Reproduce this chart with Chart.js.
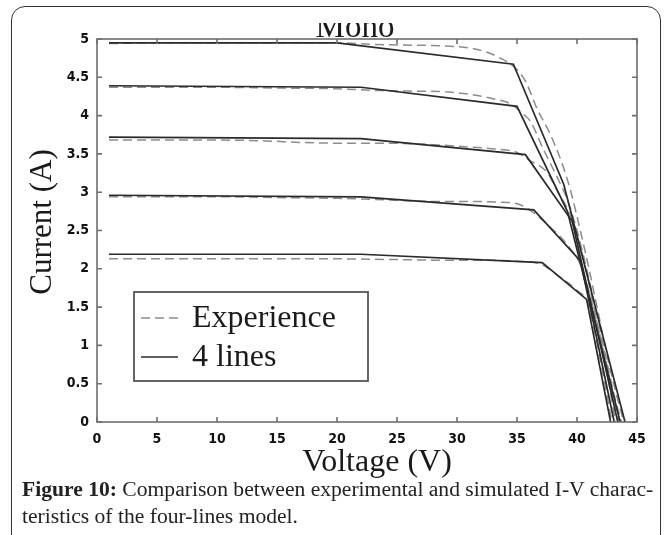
<!DOCTYPE html>
<html>
<head>
<meta charset="utf-8">
<title>I-V characteristics</title>
<script src="https://cdn.jsdelivr.net/npm/chart.js@4.4.1/dist/chart.umd.min.js"></script>
<style>
    html, body { margin: 0; padding: 0; background: #fff; width: 669px; height: 535px; overflow: hidden; }
    .frame {
        position: absolute; left: 11px; top: 6px; width: 648px; height: 620px;
        border: 1.5px solid #333; border-radius: 14px;
    }
    .plot { position: absolute; left: 0; top: 23px; width: 669px; height: 459px; overflow: hidden; }
    .plot canvas { position: absolute; left: 0; top: -23px; }
    .caption {
        position: absolute; left: 22px; top: 476px; width: 640px;
        font-family: "Liberation Serif", "DejaVu Serif", serif; font-size: 21.6px; line-height: 27px; color: #222;
        white-space: nowrap;
    }
    .caption b { font-weight: bold; }
</style>
</head>
<body>
<div class="frame"></div>
<div class="plot"><canvas id="ivChart" width="669" height="482"></canvas></div>
<div class="caption"><b>Figure 10:</b> Comparison between experimental and simulated I-V charac-<br>teristics of the four-lines model.</div>

<script>
// Axis ticks
const voltageTicks = [0, 5, 10, 15, 20, 25, 30, 35, 40, 45];
const currentTicks = [0, 0.5, 1, 1.5, 2, 2.5, 3, 3.5, 4, 4.5, 5];

// Measured curves (Experience), [voltage, current]
const experience1 = [[1, 4.94], [5, 4.95], [10, 4.95], [15, 4.95], [20, 4.95], [23, 4.93], [26, 4.92], [29, 4.91], [31.5, 4.87], [33.5, 4.76], [35, 4.6], [35.7, 4.45], [36.7, 4.08], [37.7, 3.78], [38.7, 3.4], [39.5, 3.0], [40.2, 2.55], [41, 2.0], [41.8, 1.4], [42.6, 0.8], [43.3, 0.35], [43.9, 0]];
const experience2 = [[1, 4.37], [5, 4.37], [10, 4.37], [15, 4.36], [20, 4.35], [23, 4.33], [26, 4.32], [29, 4.31], [31, 4.28], [33, 4.22], [34.5, 4.15], [35.5, 4.02], [36.1, 3.93], [37.2, 3.56], [38.3, 3.21], [39.2, 2.9], [40, 2.5], [40.8, 2.0], [41.6, 1.45], [42.4, 0.85], [43.1, 0.35], [43.7, 0]];
const experience3 = [[1, 3.68], [5, 3.68], [10, 3.68], [14, 3.67], [17, 3.65], [20, 3.64], [24, 3.64], [28, 3.62], [31, 3.59], [33.5, 3.56], [35, 3.52], [36, 3.42], [37.5, 3.26], [38.4, 3.0], [39.25, 2.77], [40, 2.45], [40.8, 1.95], [41.6, 1.35], [42.4, 0.8], [43, 0.35], [43.5, 0]];
const experience4 = [[1, 2.94], [5, 2.94], [10, 2.94], [15, 2.93], [20, 2.92], [24, 2.9], [28, 2.88], [31, 2.88], [33.5, 2.87], [35, 2.85], [36.5, 2.72], [37.5, 2.58], [38.6, 2.42], [39.5, 2.25], [40.3, 2.05], [41, 1.7], [41.8, 1.2], [42.5, 0.65], [43.2, 0]];
const experience5 = [[1, 2.13], [5, 2.13], [10, 2.13], [15, 2.13], [20, 2.13], [25, 2.12], [30, 2.11], [33, 2.11], [35, 2.1], [37, 2.06], [38.5, 1.9], [40, 1.72], [40.9, 1.55], [41.5, 1.15], [42.2, 0.6], [42.9, 0]];

// Four-lines model, break points [voltage, current]
const model1 = [[1, 4.95], [20, 4.95], [34.7, 4.67], [38.9, 3.1], [44.0, 0]];
const model2 = [[1, 4.39], [22, 4.37], [35.0, 4.12], [39.2, 2.75], [43.6, 0]];
const model3 = [[1, 3.72], [22, 3.70], [35.7, 3.49], [39.6, 2.62], [43.4, 0]];
const model4 = [[1, 2.96], [22, 2.94], [36.4, 2.77], [40.3, 2.1], [43.1, 0]];
const model5 = [[1, 2.19], [22, 2.19], [37.1, 2.08], [40.8, 1.6], [42.8, 0]];

const legendLabels = ['Experience', '4 lines'];

const axisColor = '#6f6f6f';
const solidColor = '#2a2a2a';
const dashColor = '#8c8c8c';
const serif = '"Liberation Serif", "DejaVu Serif", serif';
const tickFont = '"Liberation Sans Narrow", "DejaVu Sans Condensed", sans-serif';

function toPoints(arr) {
    return arr.map(p => ({ x: p[0], y: p[1] }));
}

function dashedSet(arr) {
    return {
        data: toPoints(arr),
        borderColor: dashColor,
        borderWidth: 1.5,
        borderDash: [9, 5],
        cubicInterpolationMode: 'monotone',
        pointRadius: 0,
        order: 2
    };
}

function solidSet(arr) {
    return {
        data: toPoints(arr),
        borderColor: solidColor,
        borderWidth: 1.7,
        tension: 0,
        pointRadius: 0,
        order: 1
    };
}

// Box around the plot with inward ticks on all four sides
const boxAxes = {
    id: 'boxAxes',
    afterDatasetsDraw(chart) {
        const { ctx, chartArea: a, scales: { x, y } } = chart;
        ctx.save();
        ctx.strokeStyle = axisColor;
        ctx.lineWidth = 1.6;
        ctx.strokeRect(a.left, a.top, a.width, a.height);
        ctx.beginPath();
        x.ticks.forEach(t => {
            const px = x.getPixelForValue(t.value);
            ctx.moveTo(px, a.bottom); ctx.lineTo(px, a.bottom - 5);
            ctx.moveTo(px, a.top); ctx.lineTo(px, a.top + 5);
        });
        y.ticks.forEach(t => {
            const py = y.getPixelForValue(t.value);
            ctx.moveTo(a.left, py); ctx.lineTo(a.left + 5, py);
            ctx.moveTo(a.right, py); ctx.lineTo(a.right - 5, py);
        });
        ctx.stroke();
        ctx.restore();
    }
};

// Title, axis titles and the boxed legend
const decorations = {
    id: 'decorations',
    afterDraw(chart) {
        const { ctx } = chart;
        ctx.save();
        ctx.fillStyle = '#1a1a1a';
        ctx.textAlign = 'center';
        ctx.textBaseline = 'alphabetic';

        ctx.font = '33px ' + serif;
        ctx.fillText('Mono', 355, 37);

        ctx.font = '32px ' + serif;
        ctx.fillText('Voltage (V)', 377, 471);

        ctx.save();
        ctx.translate(51, 222);
        ctx.rotate(-Math.PI / 2);
        ctx.font = '31px ' + serif;
        ctx.fillText('Current (A)', 0, 0);
        ctx.restore();

        // legend box
        ctx.strokeStyle = '#555';
        ctx.lineWidth = 1.8;
        ctx.fillStyle = '#fff';
        ctx.fillRect(134, 292, 234, 89);
        ctx.strokeRect(134, 292, 234, 89);

        ctx.lineWidth = 1.5;
        ctx.strokeStyle = dashColor;
        ctx.setLineDash([9, 5]);
        ctx.beginPath(); ctx.moveTo(141, 318); ctx.lineTo(178, 318); ctx.stroke();
        ctx.setLineDash([]);
        ctx.strokeStyle = solidColor;
        ctx.lineWidth = 1.7;
        ctx.beginPath(); ctx.moveTo(141, 357); ctx.lineTo(178, 357); ctx.stroke();

        ctx.fillStyle = '#1a1a1a';
        ctx.textAlign = 'left';
        ctx.font = '32px ' + serif;
        ctx.fillText(legendLabels[0], 192, 327);
        ctx.fillText(legendLabels[1], 192, 366);
        ctx.restore();
    }
};

function initIVChart() {
    const el = document.getElementById('ivChart');
    if (!el || typeof Chart === 'undefined') return;

    new Chart(el, {
        type: 'line',
        data: {
            datasets: [
                dashedSet(experience1), dashedSet(experience2), dashedSet(experience3),
                dashedSet(experience4), dashedSet(experience5),
                solidSet(model1), solidSet(model2), solidSet(model3),
                solidSet(model4), solidSet(model5)
            ]
        },
        options: {
            responsive: false,
            animation: false,
            devicePixelRatio: 1,
            layout: { padding: { left: 57, right: 32, top: 39, bottom: 30 } },
            plugins: { legend: { display: false }, tooltip: { enabled: false }, title: { display: false } },
            scales: {
                x: {
                    type: 'linear', min: 0, max: 45,
                    afterBuildTicks: s => { s.ticks = voltageTicks.map(v => ({ value: v })); },
                    afterFit: s => { s.height = 30; },
                    grid: { display: false, drawTicks: false },
                    border: { display: false },
                    ticks: {
                        color: '#111', padding: 9, maxRotation: 0,
                        callback: v => String(v),
                        font: { family: tickFont, size: 14, weight: 'bold' }
                    }
                },
                y: {
                    type: 'linear', min: 0, max: 5,
                    afterBuildTicks: s => { s.ticks = currentTicks.map(v => ({ value: v })); },
                    afterFit: s => { s.width = 40; },
                    grid: { display: false, drawTicks: false },
                    border: { display: false },
                    ticks: {
                        color: '#111', padding: 8,
                        callback: v => String(v),
                        font: { family: tickFont, size: 14, weight: 'bold' }
                    }
                }
            }
        },
        plugins: [boxAxes, decorations]
    });
}

initIVChart();
</script>
</body>
</html>
